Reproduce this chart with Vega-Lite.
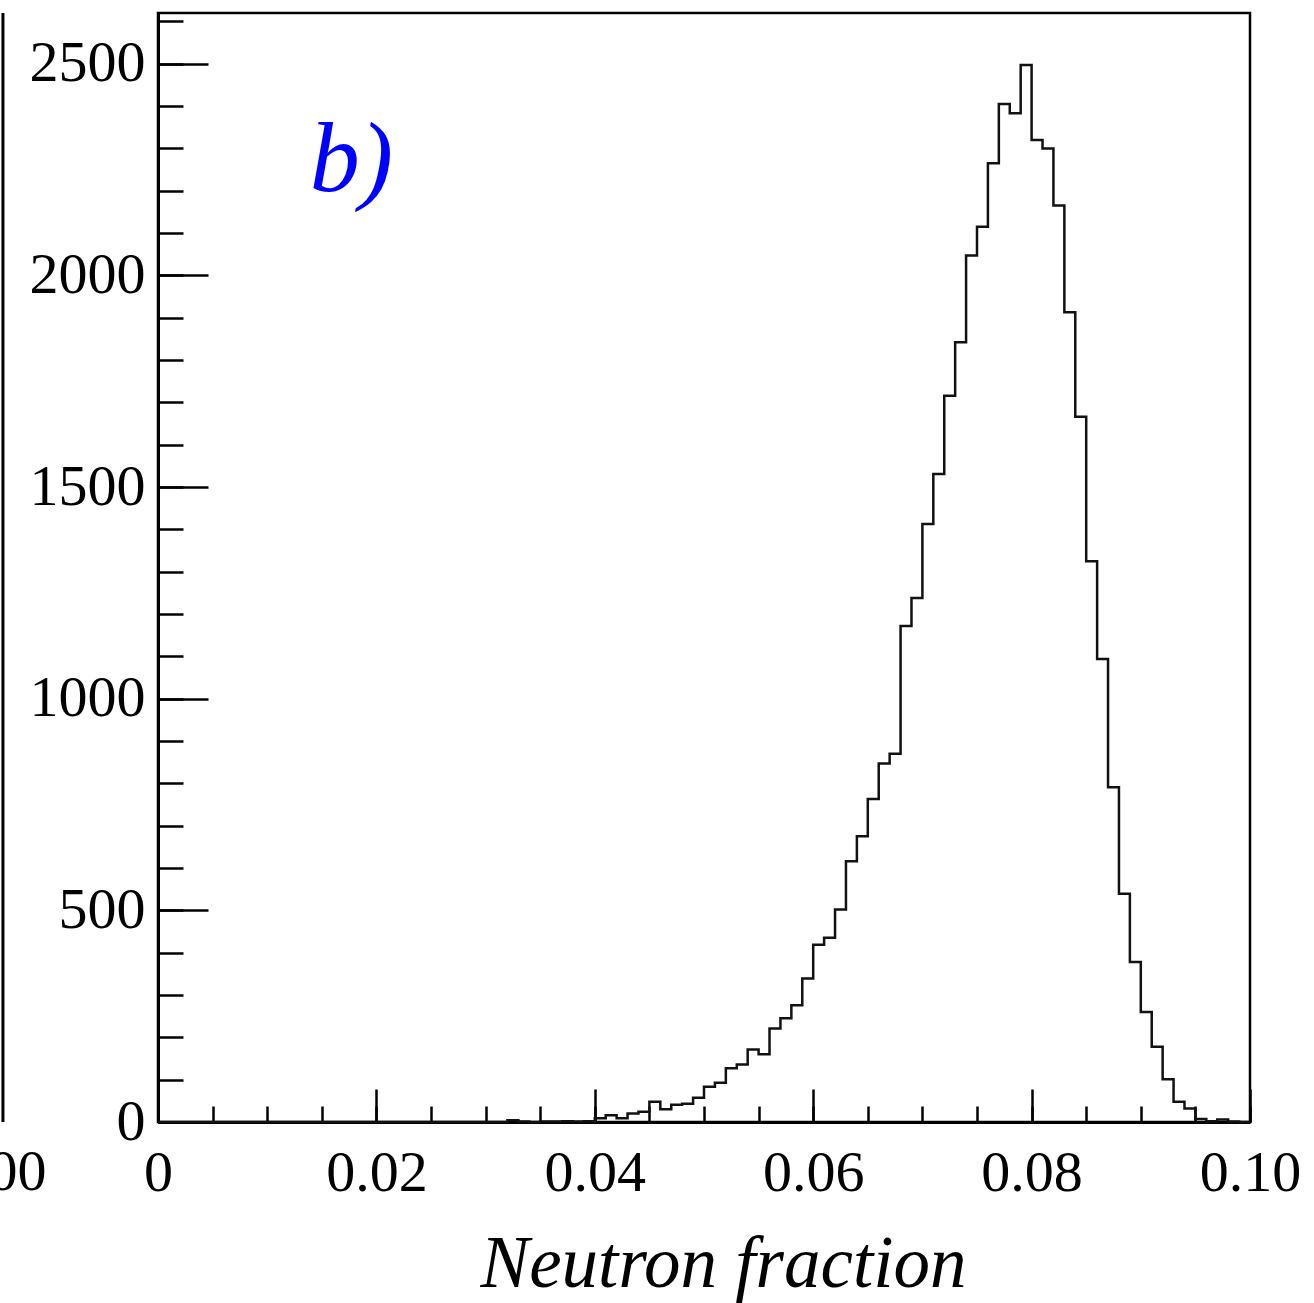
{
  "$schema": "https://vega.github.io/schema/vega-lite/v6.json",
  "autosize": {"type": "none"},
  "padding": {"left": 158, "top": 13, "right": 64, "bottom": 181},
  "width": 1092,
  "height": 1109,
  "background": "white",
  "config": {
    "view": {"stroke": "black", "strokeWidth": 2.5},
    "axis": {"labelFont": "Liberation Serif", "titleFont": "Liberation Serif", "labelColor": "black", "titleColor": "black", "domainColor": "black", "tickColor": "black", "grid": false}
  },
  "datasets": {
    "hist": [
      {"x": 0.000, "c": 0}, {"x": 0.001, "c": 0}, {"x": 0.002, "c": 0}, {"x": 0.003, "c": 0}, {"x": 0.004, "c": 0},
      {"x": 0.005, "c": 0}, {"x": 0.006, "c": 0}, {"x": 0.007, "c": 0}, {"x": 0.008, "c": 0}, {"x": 0.009, "c": 0},
      {"x": 0.010, "c": 0}, {"x": 0.011, "c": 0}, {"x": 0.012, "c": 0}, {"x": 0.013, "c": 0}, {"x": 0.014, "c": 0},
      {"x": 0.015, "c": 0}, {"x": 0.016, "c": 0}, {"x": 0.017, "c": 0}, {"x": 0.018, "c": 0}, {"x": 0.019, "c": 0},
      {"x": 0.020, "c": 0}, {"x": 0.021, "c": 0}, {"x": 0.022, "c": 0}, {"x": 0.023, "c": 0}, {"x": 0.024, "c": 0},
      {"x": 0.025, "c": 0}, {"x": 0.026, "c": 0}, {"x": 0.027, "c": 0}, {"x": 0.028, "c": 0}, {"x": 0.029, "c": 0},
      {"x": 0.030, "c": 0}, {"x": 0.031, "c": 0}, {"x": 0.032, "c": 4}, {"x": 0.033, "c": 1}, {"x": 0.034, "c": 0},
      {"x": 0.035, "c": 1}, {"x": 0.036, "c": 1}, {"x": 0.037, "c": 2}, {"x": 0.038, "c": 1}, {"x": 0.039, "c": 2},
      {"x": 0.040, "c": 9}, {"x": 0.041, "c": 16}, {"x": 0.042, "c": 9}, {"x": 0.043, "c": 20}, {"x": 0.044, "c": 24},
      {"x": 0.045, "c": 48}, {"x": 0.046, "c": 30}, {"x": 0.047, "c": 41}, {"x": 0.048, "c": 43}, {"x": 0.049, "c": 57},
      {"x": 0.050, "c": 83}, {"x": 0.051, "c": 93}, {"x": 0.052, "c": 127}, {"x": 0.053, "c": 136}, {"x": 0.054, "c": 171},
      {"x": 0.055, "c": 160}, {"x": 0.056, "c": 221}, {"x": 0.057, "c": 245}, {"x": 0.058, "c": 276}, {"x": 0.059, "c": 339},
      {"x": 0.060, "c": 419}, {"x": 0.061, "c": 435}, {"x": 0.062, "c": 502}, {"x": 0.063, "c": 616}, {"x": 0.064, "c": 675},
      {"x": 0.065, "c": 763}, {"x": 0.066, "c": 847}, {"x": 0.067, "c": 870}, {"x": 0.068, "c": 1172}, {"x": 0.069, "c": 1238},
      {"x": 0.070, "c": 1413}, {"x": 0.071, "c": 1531}, {"x": 0.072, "c": 1716}, {"x": 0.073, "c": 1842}, {"x": 0.074, "c": 2047},
      {"x": 0.075, "c": 2115}, {"x": 0.076, "c": 2265}, {"x": 0.077, "c": 2405}, {"x": 0.078, "c": 2383}, {"x": 0.079, "c": 2497},
      {"x": 0.080, "c": 2320}, {"x": 0.081, "c": 2300}, {"x": 0.082, "c": 2165}, {"x": 0.083, "c": 1913}, {"x": 0.084, "c": 1666},
      {"x": 0.085, "c": 1325}, {"x": 0.086, "c": 1094}, {"x": 0.087, "c": 791}, {"x": 0.088, "c": 539}, {"x": 0.089, "c": 378},
      {"x": 0.090, "c": 260}, {"x": 0.091, "c": 178}, {"x": 0.092, "c": 101}, {"x": 0.093, "c": 48}, {"x": 0.094, "c": 32},
      {"x": 0.095, "c": 7}, {"x": 0.096, "c": 2}, {"x": 0.097, "c": 6}, {"x": 0.098, "c": 1}, {"x": 0.099, "c": 0},
      {"x": 0.100, "c": 0}
    ],
    "label": [{"text": "b)", "x": 0.0139, "y": 2199}],
    "edgeText": [{"text": "00", "x": -0.0102, "y": -160}],
    "edgeLine": [{"x": -0.0142, "y0": 0, "y1": 2620}]
  },
  "layer": [
    {
      "data": {"name": "hist"},
      "mark": {"type": "line", "interpolate": "step-after", "color": "#111111", "strokeWidth": 2.5},
      "encoding": {
        "x": {"field": "x", "type": "quantitative", "scale": {"domain": [0, 0.1], "nice": false, "zero": false},
          "axis": {"orient": "bottom", "values": [0, 0.02, 0.04, 0.06, 0.08, 0.1], "ticks": false,
            "labelExpr": "datum.value === 0 ? '0' : format(datum.value, '.2f')",
            "labelFontSize": 58, "labelPadding": 22, "labelFlush": false, "labelOverlap": false, "domainWidth": 3,
            "title": "Neutron fraction", "titleFontSize": 73, "titleFontStyle": "italic", "titleFontWeight": "normal",
            "titleX": 565, "titleY": 164, "titleBaseline": "alphabetic", "titleAlign": "center"}},
        "y": {"field": "c", "type": "quantitative", "scale": {"domain": [0, 2620], "nice": false, "zero": false},
          "axis": {"orient": "left", "values": [0, 500, 1000, 1500, 2000, 2500], "ticks": false, "format": "d",
            "labelFontSize": 58, "labelPadding": 13, "labelOverlap": false, "domainWidth": 3, "title": null}}
      }
    },
    {
      "data": {"name": "hist"},
      "mark": {"type": "line", "strokeOpacity": 0},
      "encoding": {
        "x": {"field": "x", "type": "quantitative", "scale": {"domain": [0, 0.1], "nice": false, "zero": false},
          "axis": {"orient": "bottom", "values": [0, 0.02, 0.04, 0.06, 0.08, 0.1], "tickSize": -33, "tickWidth": 2.5, "labels": false, "domain": false, "title": null}},
        "y": {"field": "c", "type": "quantitative", "scale": {"domain": [0, 2620], "nice": false, "zero": false},
          "axis": {"orient": "left", "values": [0, 500, 1000, 1500, 2000, 2500], "tickSize": -50, "tickWidth": 2.5, "labels": false, "domain": false, "title": null}}
      }
    },
    {
      "data": {"name": "hist"},
      "mark": {"type": "line", "strokeOpacity": 0},
      "encoding": {
        "x": {"field": "x", "type": "quantitative", "scale": {"domain": [0, 0.1], "nice": false, "zero": false},
          "axis": {"orient": "bottom", "values": [0, 0.005, 0.01, 0.015, 0.02, 0.025, 0.03, 0.035, 0.04, 0.045, 0.05, 0.055, 0.06, 0.065, 0.07, 0.075, 0.08, 0.085, 0.09, 0.095, 0.1], "tickSize": -16, "tickWidth": 2.5, "labels": false, "domain": false, "title": null}},
        "y": {"field": "c", "type": "quantitative", "scale": {"domain": [0, 2620], "nice": false, "zero": false},
          "axis": {"orient": "left", "values": [0, 100, 200, 300, 400, 500, 600, 700, 800, 900, 1000, 1100, 1200, 1300, 1400, 1500, 1600, 1700, 1800, 1900, 2000, 2100, 2200, 2300, 2400, 2500, 2600], "tickSize": -25, "tickWidth": 2.5, "labels": false, "domain": false, "title": null}}
      }
    },
    {
      "data": {"name": "label"},
      "mark": {"type": "text", "font": "Liberation Serif", "fontStyle": "italic", "fontSize": 100, "color": "#0000ff", "align": "left", "baseline": "alphabetic"},
      "encoding": {
        "x": {"field": "x", "type": "quantitative", "scale": {"domain": [0, 0.1], "nice": false, "zero": false}, "axis": null},
        "y": {"field": "y", "type": "quantitative", "scale": {"domain": [0, 2620], "nice": false, "zero": false}, "axis": null},
        "text": {"field": "text"}
      }
    },
    {
      "data": {"name": "edgeText"},
      "mark": {"type": "text", "font": "Liberation Serif", "fontSize": 58, "color": "black", "align": "right", "baseline": "alphabetic"},
      "encoding": {
        "x": {"field": "x", "type": "quantitative", "scale": {"domain": [0, 0.1], "nice": false, "zero": false}, "axis": null},
        "y": {"field": "y", "type": "quantitative", "scale": {"domain": [0, 2620], "nice": false, "zero": false}, "axis": null},
        "text": {"field": "text"}
      }
    },
    {
      "data": {"name": "edgeLine"},
      "mark": {"type": "rule", "color": "black", "strokeWidth": 3},
      "encoding": {
        "x": {"field": "x", "type": "quantitative", "scale": {"domain": [0, 0.1], "nice": false, "zero": false}, "axis": null},
        "y": {"field": "y0", "type": "quantitative", "scale": {"domain": [0, 2620], "nice": false, "zero": false}, "axis": null},
        "y2": {"field": "y1"}
      }
    }
  ],
  "resolve": {"axis": {"x": "independent", "y": "independent"}}
}
